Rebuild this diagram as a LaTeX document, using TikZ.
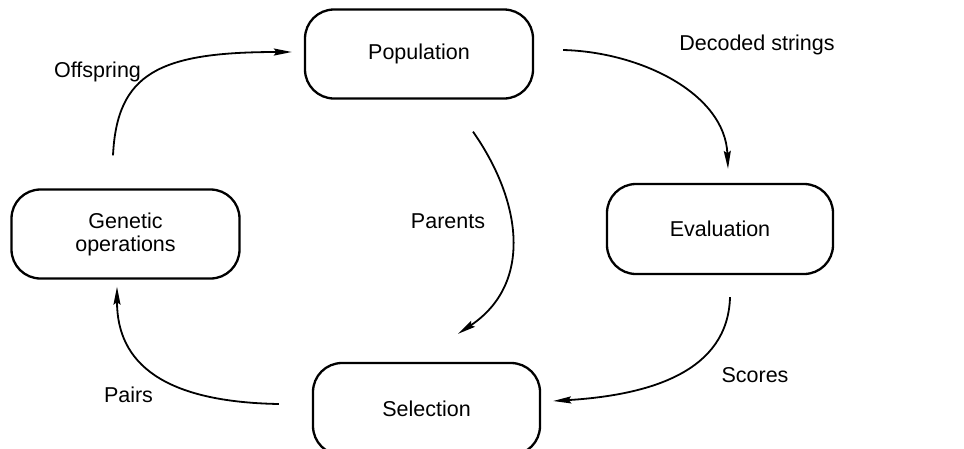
\documentclass[tikz,border=0pt]{standalone}
\usepackage{fontspec}
\setmainfont{Liberation Sans}
\usetikzlibrary{arrows.meta,calc,shapes.misc}

\begin{document}
\begin{tikzpicture}[x=1pt,y=-1pt,
  stage/.style={draw, line width=2.3pt, rounded corners=29pt,
    minimum width=228pt, minimum height=89pt, inner sep=0pt,
    align=center, font=\fontsize{21.5}{23}\selectfont},
  flow/.style={line width=1.8pt, -{Stealth[length=18pt,width=7pt,inset=2.5pt]}},
  tag/.style={anchor=base, inner sep=0pt, font=\fontsize{21.5}{23}\selectfont}]

  \useasboundingbox (0,0) rectangle (964,448);
  \clip (0,0) rectangle (964,448);

  % processing stages
  \node[stage] (pop)  at (419,54)    {Population};
  \node[stage] (gen)  at (125.5,234) {Genetic\\operations};
  \node[stage, minimum width=226pt, minimum height=90pt] (eval) at (720,229) {Evaluation};
  \node[stage, minimum width=227pt, minimum height=92pt] (sel)  at (426.5,409) {Selection};

  % free ends of the connectors
  \coordinate (offS) at ($(gen.north)+(-12.5,-33)$);
  \coordinate (offE) at ($(pop.west)+(-12,-2)$);
  \coordinate (decS) at ($(pop.east)+(29,-4)$);
  \coordinate (decE) at ($(eval.north)+(8,-14)$);
  \coordinate (parS) at ($(pop.south)+(54,32)$);
  \coordinate (parE) at ($(sel.north)+(31.5,-28)$);
  \coordinate (scoS) at ($(eval.south)+(10,22)$);
  \coordinate (scoE) at ($(sel.east)+(12,-8)$);
  \coordinate (paiS) at ($(sel.west)+(-33,-5)$);
  \coordinate (paiE) at ($(gen.south)+(-8.5,7)$);

  % cycle of connectors
  \draw[flow] (offS) .. controls +(4,-82) and +(-133,0) .. (offE);
  \draw[flow] (decS) .. controls +(78,2) and +(-3,-75) .. (decE);
  \draw[flow] (parS) .. controls +(49,70) and +(75,-50) .. (parE);
  \draw[flow] (scoS) .. controls +(-2,74) and +(98,-6) .. (scoE);
  \draw[flow] (paiS) .. controls +(-115,-2) and +(0,77) .. (paiE);

  % connector labels
  \node[tag] (lOff) at (97.5,77)  {Offspring};
  \node[tag] (lDec) at (757,50)   {Decoded strings};
  \node[tag] (lPar) at (448,228)  {Parents};
  \node[tag] (lSco) at (755,382)  {Scores};
  \node[tag] (lPai) at (128.5,402) {Pairs};
\end{tikzpicture}
\end{document}
